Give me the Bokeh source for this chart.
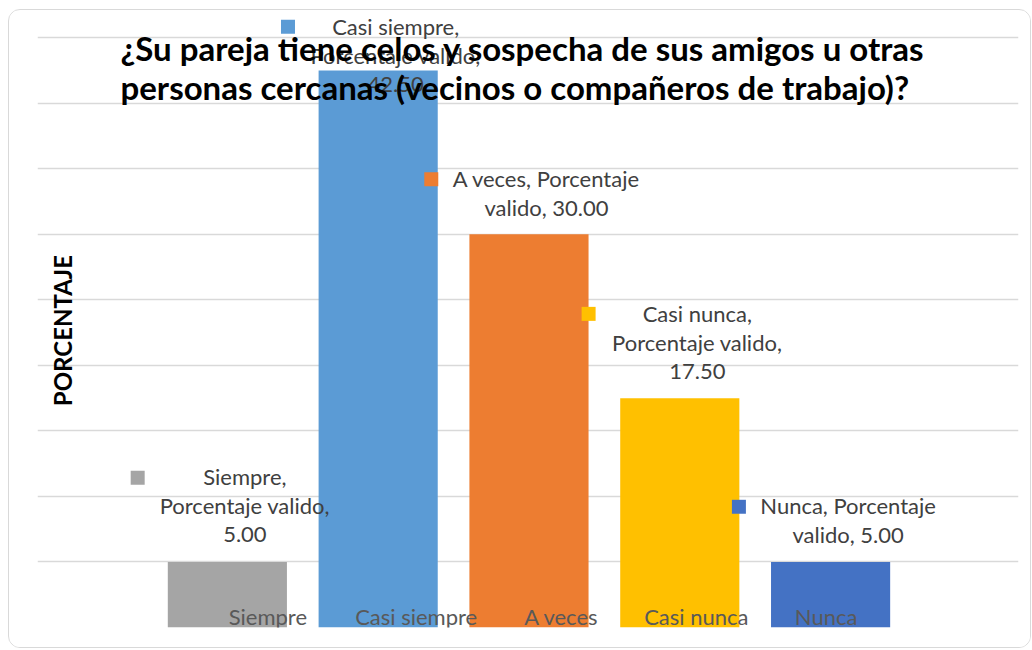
import numpy as np
from bokeh.plotting import figure
from bokeh.models import Range1d
from bokeh.core.properties import value
from bokeh.embed import file_html
from bokeh.resources import INLINE

# ---------------- data ----------------
categories = ["Siempre", "Casi siempre", "A veces", "Casi nunca", "Nunca"]
series_name = "Porcentaje valido"
values = [5.00, 42.50, 30.00, 17.50, 5.00]
bar_colors = ["#A5A5A5", "#5B9BD5", "#ED7D31", "#FFC000", "#4472C4"]
y_ticks = [0, 5, 10, 15, 20, 25, 30, 35, 40, 45]
title_lines = ["¿Su pareja tiene celos y sospecha de sus amigos u otras",
               "personas cercanas (vecinos o compañeros de trabajo)?"]
y_axis_label = "PORCENTAJE"
# data-label texts (category, series name, value) as wrapped in the original
label_lines = [
    ["Siempre,", "Porcentaje valido,", "5.00"],
    ["Casi siempre,", "Porcentaje valido,", "42.50"],
    ["A veces, Porcentaje", "valido, 30.00"],
    ["Casi nunca,", "Porcentaje valido,", "17.50"],
    ["Nunca, Porcentaje", "valido, 5.00"],
]

# ---------------- layout / style ----------------
FONT = "Lato"
W, H = 1023, 639                 # outer box incl. 1px border
CW, CH = W - 2, H - 2            # canvas inside the border
MB_L, MB_R, MB_T, MB_B = 28, 14, 1, 22
X_RANGE = (-1.259, 5.246)
Y_RANGE = (0, 47)
FRAME_W = CW - MB_L - MB_R
FRAME_H = CH - MB_T - MB_B
PX_X = FRAME_W / (X_RANGE[1] - X_RANGE[0])
PX_Y = FRAME_H / (Y_RANGE[1] - Y_RANGE[0])
BAR_W = 0.79
LBL_SIZE = 22
LINE_STEP = 29          # px between label lines
BASE_GAP = 18.5         # px between last label baseline and bar top
MID = 0.387             # baseline -> middle of text box, in em
LABEL_CAP = 39.4        # labels can not rise above this (chart top)
TEXT_DX = 17.5          # px shift of label text to the right of bar centre
key_dx = [-89.5, -90, -97.5, -91, -91.5]   # legend-key square offsets (px)
cat_dx = [40.5, 38, 32.5, 16.5, -4.5]      # category label offsets (px)
TITLE_SIZE = 33

p = figure(width=W, height=H, x_range=Range1d(*X_RANGE), y_range=Range1d(*Y_RANGE),
           output_backend="svg", toolbar_location=None,
           min_border_left=MB_L, min_border_right=MB_R,
           min_border_top=MB_T, min_border_bottom=MB_B)
p.styles = {"border": "1px solid #d9d9d9", "border-radius": "12px", "overflow": "hidden",
            "margin-left": "8px", "margin-top": "9px"}
p.background_fill_color = "white"
p.border_fill_color = "white"
p.outline_line_color = None
p.xaxis.visible = False
p.yaxis.visible = False
p.xgrid.visible = False
p.yaxis.ticker = y_ticks
p.ygrid.grid_line_color = "#d9d9d9"
p.ygrid.grid_line_width = 1.5

idx = np.arange(len(categories))
vals = np.array(values)

p.vbar(x=idx, top=vals, width=BAR_W, color=bar_colors, line_color=None)

# data labels
anchor = np.minimum(vals, LABEL_CAP)
lx, ly, lt, loff = [], [], [], []
kx, ky, kc = [], [], []
for i, lines in enumerate(label_lines):
    n = len(lines)
    for k, t in enumerate(lines):
        lx.append(i)
        ly.append(anchor[i])
        lt.append(t)
        loff.append(-(BASE_GAP + LINE_STEP * (n - 1 - k) + MID * LBL_SIZE))
    kx.append(i + key_dx[i] / PX_X)
    ky.append(anchor[i] + (BASE_GAP + LINE_STEP * (n - 1) + 7.5) / PX_Y)
    kc.append(bar_colors[i])

p.text(x=lx, y=ly, text=lt, x_offset=TEXT_DX, y_offset=loff,
       text_font=value(FONT), text_font_size=f"{LBL_SIZE}px", text_color="#404040",
       text_align="center", text_baseline="middle")
p.rect(x=kx, y=ky, width=14, height=14, width_units="screen", height_units="screen",
       color=kc, line_color=None)

# category labels (drawn inside the plot, at the baseline)
p.text(x=idx, y=[Y_RANGE[0]] * len(categories), text=categories, x_offset=cat_dx,
       y_offset=-(2 + MID * LBL_SIZE),
       text_font=value(FONT), text_font_size=f"{LBL_SIZE}px", text_color="#595959",
       text_align="center", text_baseline="middle")

# y-axis title
p.text(x=[X_RANGE[0]], y=[(y_ticks[0] + y_ticks[-1]) / 2], text=[y_axis_label],
       x_offset=24.5, y_offset=-2, angle=np.pi / 2,
       text_font=value(FONT), text_font_size="24px", text_font_style="bold",
       text_color="#000000", text_align="center", text_baseline="middle")

# chart title (baselines 23 px and 62 px below the top gridline)
p.text(x=[X_RANGE[0]] * 2, y=[y_ticks[-1]] * 2, text=title_lines,
       x_offset=83, y_offset=[23 - MID * TITLE_SIZE, 62 - MID * TITLE_SIZE],
       text_font=value(FONT), text_font_size=f"{TITLE_SIZE}px", text_font_style="bold",
       text_color="#000000", text_align="left", text_baseline="middle")

open("out.html", "w").write(file_html(p, INLINE))
